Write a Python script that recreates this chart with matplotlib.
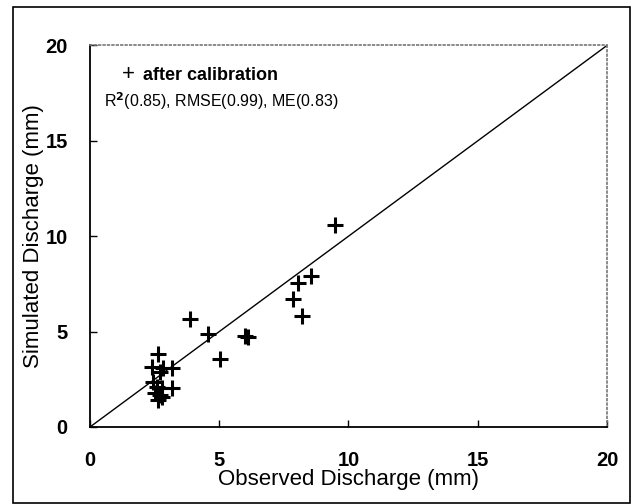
import matplotlib
matplotlib.use('Agg')
from matplotlib import pyplot as plt
from matplotlib.patches import Rectangle

plt.rcParams['font.family'] = ['Liberation Sans', 'DejaVu Sans']

# observed vs simulated discharge (mm)
observed = [9.48, 8.54, 8.06, 7.84, 8.19, 6.00, 6.10, 4.58, 3.87, 5.03,
            2.62, 2.39, 2.84, 3.16, 2.71, 3.16, 2.45, 2.58, 2.77, 2.51,
            2.71, 2.64, 2.80]
simulated = [10.59, 7.91, 7.53, 6.71, 5.82, 4.77, 4.70, 4.86, 5.64, 3.55,
             3.81, 3.16, 3.08, 3.11, 2.88, 2.06, 2.37, 2.11, 2.03, 1.77,
             1.68, 1.42, 1.55]
line_ends = [0, 20]
ticks = [0, 5, 10, 15, 20]

fig = plt.figure(figsize=(6.4, 5.04), dpi=100)
ax = fig.add_axes([0.1406, 0.1528, 0.8078, 0.757])

ax.plot(line_ends, line_ends, c='black', lw=1.0)
ax.plot(observed, simulated, ls='none', marker='+', ms=12, mew=2.2, c='black')

ax.set_xlim(0, 20)
ax.set_ylim(0, 20)
ax.set_xticks(ticks)
ax.set_yticks(ticks)
ax.tick_params(axis='both', direction='in', length=5, width=1, labelsize=14.5)
ax.tick_params(axis='y', pad=16)
ax.tick_params(axis='x', pad=17)
for lab in ax.get_xticklabels() + ax.get_yticklabels():
    lab.set_fontweight('bold')

for side in ['left', 'bottom']:
    ax.spines[side].set_linewidth(1.3)
for side in ['top', 'right']:
    ax.spines[side].set_color('#777777')
    ax.spines[side].set_linestyle(':')
    ax.spines[side].set_linewidth(1.2)

ax.set_xlabel('Observed Discharge (mm)', fontsize=16)
ax.xaxis.set_label_coords(0.5, -0.11)
ax.set_ylabel('Simulated Discharge (mm)', fontsize=16)
ax.yaxis.set_label_coords(-0.088, 0.5)

fig.text(128 / 640, 1 - 75 / 504, '+', fontsize=16, va='center', ha='center')
fig.text(0.224, 1 - 76 / 504, 'after calibration', fontsize=13,
         fontweight='bold', va='center')
fig.text(0.1625, 1 - 101 / 504, r'R$^\mathbf{2}$(0.85), RMSE(0.99), ME(0.83)',
         fontsize=11.5, va='center')

fig.patches.append(Rectangle((13 / 640, 1 / 504), 617 / 640, 496 / 504,
                             transform=fig.transFigure, fill=False,
                             ec='black', lw=1.2))

plt.savefig('out.png', dpi=100)
